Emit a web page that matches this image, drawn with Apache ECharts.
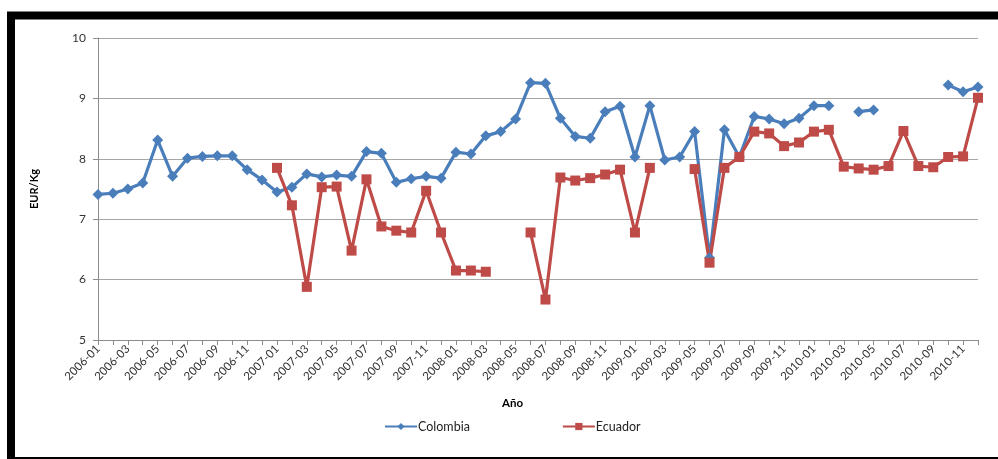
<!DOCTYPE html>
<html>
<head>
<meta charset="utf-8">
<script src="https://cdn.jsdelivr.net/npm/echarts@6/dist/echarts.min.js"></script>
<style>
html,body{margin:0;padding:0;background:#fff;}
#c{width:998px;height:459px;}
</style>
</head>
<body>
<div id="c"></div>
<script>
var months = [
'2006-01','2006-02','2006-03','2006-04','2006-05','2006-06','2006-07','2006-08','2006-09','2006-10','2006-11','2006-12',
'2007-01','2007-02','2007-03','2007-04','2007-05','2007-06','2007-07','2007-08','2007-09','2007-10','2007-11','2007-12',
'2008-01','2008-02','2008-03','2008-04','2008-05','2008-06','2008-07','2008-08','2008-09','2008-10','2008-11','2008-12',
'2009-01','2009-02','2009-03','2009-04','2009-05','2009-06','2009-07','2009-08','2009-09','2009-10','2009-11','2009-12',
'2010-01','2010-02','2010-03','2010-04','2010-05','2010-06','2010-07','2010-08','2010-09','2010-10','2010-11','2010-12'
];
var colombia = [
7.41,7.43,7.50,7.60,8.31,7.71,8.01,8.04,8.05,8.05,7.82,7.65,
7.45,7.53,7.75,7.70,7.73,7.71,8.12,8.09,7.61,7.67,7.71,7.68,
8.11,8.08,8.38,8.45,8.66,9.26,9.25,8.67,8.37,8.34,8.78,8.87,
8.03,8.88,7.98,8.03,8.45,6.36,8.48,8.03,8.70,8.66,8.58,8.67,
8.88,8.88,null,8.78,8.81,null,null,null,null,9.22,9.11,9.19
];
var ecuador = [
null,null,null,null,null,null,null,null,null,null,null,null,
7.85,7.23,5.88,7.53,7.54,6.48,7.66,6.88,6.81,6.78,7.47,6.78,
6.15,6.15,6.13,null,null,6.78,5.67,7.69,7.64,7.68,7.74,7.82,
6.78,7.85,null,null,7.83,6.28,7.85,8.03,8.45,8.42,8.21,8.27,
8.45,8.48,7.87,7.84,7.82,7.88,8.46,7.88,7.86,8.03,8.04,9.01
];
var yTicks = {min: 5, max: 10, interval: 1};

var chart = echarts.init(document.getElementById('c'), null, {renderer: 'canvas'});
var fontFam = 'Lato, "Open Sans", sans-serif';
chart.setOption({
  animation: false,
  backgroundColor: '#ffffff',
  textStyle: {fontFamily: fontFam},
  title: {
    text: 'Año', left: 497, top: 392,
    textStyle: {fontSize: 11.5, fontWeight: 'bold', color: '#000', fontFamily: fontFam}
  },
  graphic: [{
    type: 'rect', silent: true, z: 100,
    shape: {x: 11, y: 15.5, width: 1000, height: 445.5},
    style: {fill: 'none', stroke: '#000', lineWidth: 8}
  }],
  grid: {left: 98, right: 20, top: 38, bottom: 119},
  legend: {
    left: 379, top: 415, itemGap: 92, itemWidth: 32, itemHeight: 9,
    textStyle: {fontSize: 12.5, color: '#222', fontFamily: fontFam, padding: [0, 0, 0, -4]},
    data: ['Colombia', 'Ecuador']
  },
  xAxis: {
    type: 'category', data: months, boundaryGap: false,
    axisLine: {lineStyle: {color: '#8c8c8c', width: 1}},
    axisTick: {show: true, interval: 0, length: 5, lineStyle: {color: '#8c8c8c'}},
    axisLabel: {interval: 1, rotate: 45, fontSize: 11.5, color: '#333', margin: 7, fontFamily: fontFam},
    splitLine: {show: false}
  },
  yAxis: {
    type: 'value', min: yTicks.min, max: yTicks.max, interval: yTicks.interval,
    name: 'EUR/Kg', nameLocation: 'middle', nameGap: 58,
    nameTextStyle: {fontSize: 11, fontWeight: 'bold', color: '#000', fontFamily: fontFam},
    axisLine: {show: true, lineStyle: {color: '#8c8c8c', width: 1}},
    axisTick: {show: true, length: 5, lineStyle: {color: '#8c8c8c'}},
    axisLabel: {fontSize: 12, color: '#333', margin: 12, fontFamily: fontFam},
    splitLine: {lineStyle: {color: '#a6a6a6', width: 1}}
  },
  series: [{
    name: 'Colombia', type: 'line', data: colombia, connectNulls: false,
    symbol: 'diamond', symbolSize: 11, showSymbol: true, showAllSymbol: true,
    itemStyle: {color: '#4a7ebb'},
    lineStyle: {color: '#4a7ebb', width: 3.2}
  }, {
    name: 'Ecuador', type: 'line', data: ecuador, connectNulls: false,
    symbol: 'rect', symbolSize: 10, showSymbol: true, showAllSymbol: true,
    itemStyle: {color: '#be4b48'},
    lineStyle: {color: '#be4b48', width: 3.2}
  }]
});
</script>
</body>
</html>
